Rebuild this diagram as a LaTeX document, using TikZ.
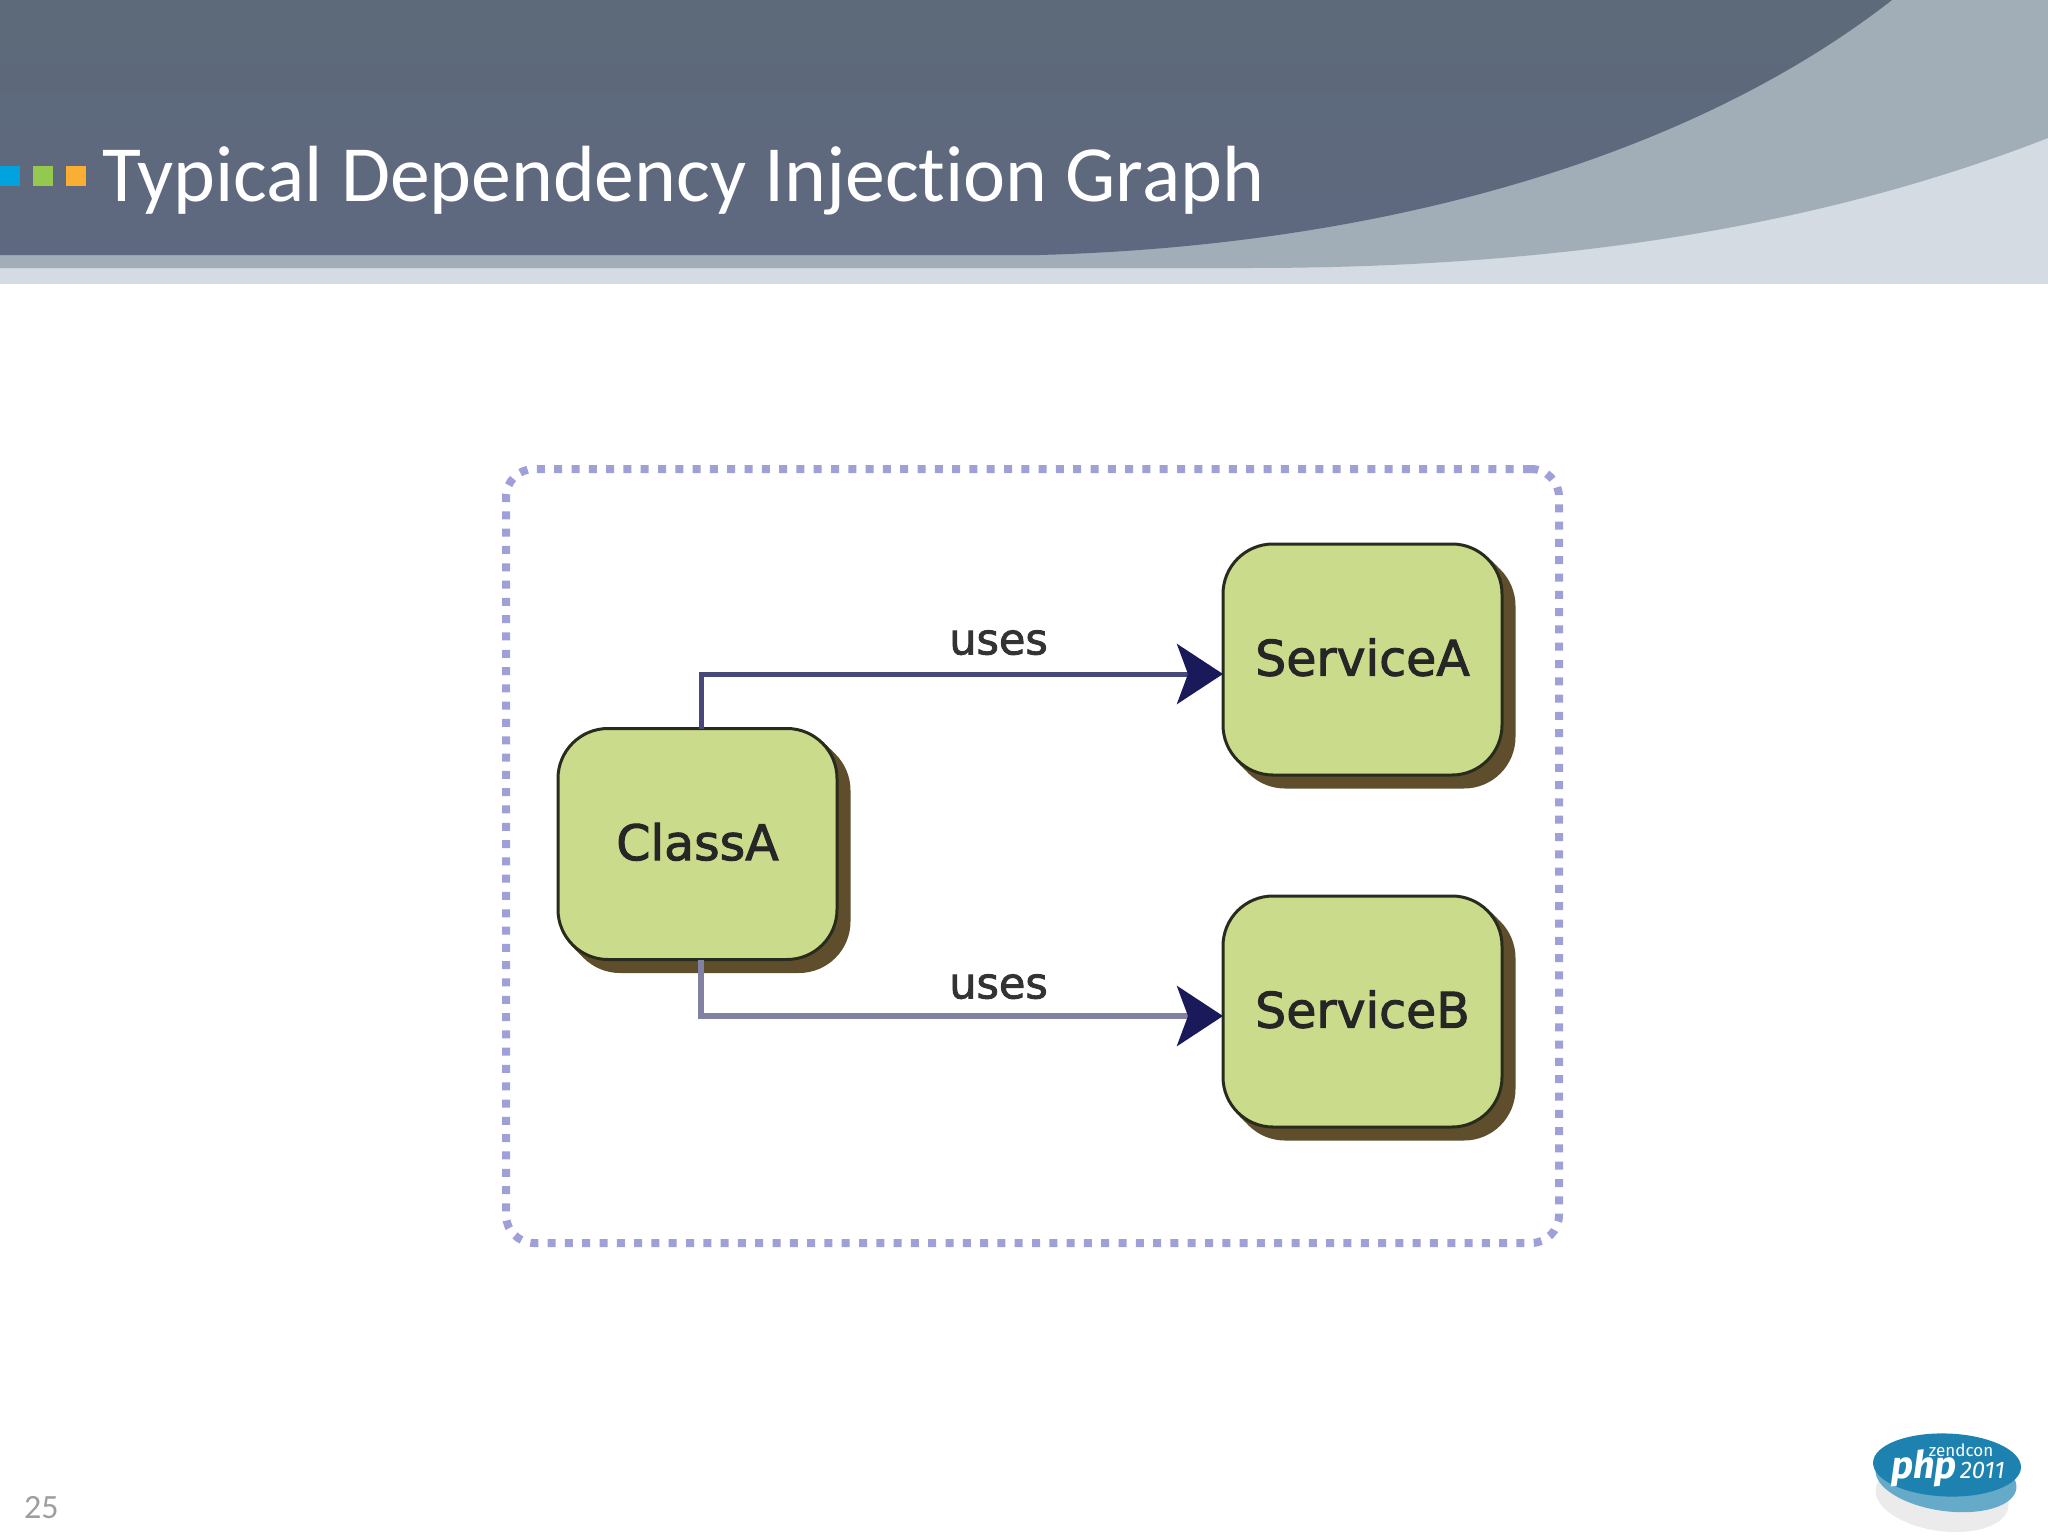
\documentclass[tikz,border=0pt]{standalone}
\usepackage{fontspec}
\setmainfont{Carlito}[Ligatures=NoCommon]
\newfontfamily\boxfont{DejaVu Sans}[FakeBold=2]
\newfontfamily\logofont{Fira Sans}
\usetikzlibrary{arrows.meta,shapes.geometric}
\definecolor{bandDark}{HTML}{5D6A79}
\definecolor{bandDarkLow}{HTML}{5E6880}
\definecolor{bandMid}{HTML}{A1AEB7}
\definecolor{bandLight}{HTML}{D4DBE2}
\definecolor{boxGreen}{HTML}{CBDB8C}
\definecolor{boxShadow}{HTML}{5E4E2C}
\definecolor{frameBlue}{HTML}{A0A0D8}
\definecolor{tipNavy}{HTML}{1A1A5A}
\definecolor{logoBlue}{HTML}{1E82B0}
\definecolor{markBlue}{HTML}{00A3DD}
\definecolor{markGreen}{HTML}{94C950}
\definecolor{markOrange}{HTML}{FBAE34}
\tikzset{
% Boxes with a hard shadow, and the two arrows between them
hard shadow/.style={preaction={draw=boxShadow,fill=boxShadow,transform canvas={shift={(#1,-#1)}}}},
class node/.style={rounded corners=50pt,draw=black!80!boxGreen,line width=3pt,fill=boxGreen,
  minimum width=279pt,minimum height=231pt,inner sep=0,outer sep=0,text depth=5pt,
  hard shadow=4pt,hard shadow=8pt,hard shadow=12pt,
  text=black!85,font=\boxfont\fontsize{49}{58}\selectfont},
uses line/.style={line width=5pt,-{Stealth[length=46pt,width=60pt,inset=11pt,color=tipNavy]}},
uses label/.style={font=\boxfont\fontsize{43}{50}\selectfont,text=black!80,inner sep=0},
marker/.style={minimum size=20pt,inner sep=0,outer sep=0}
}

\begin{document}
\begin{tikzpicture}[x=1pt,y=-1pt]
\useasboundingbox (0,0) rectangle (2048,1536);
% header bands
\fill[bandLight] (0,0) rectangle (2048,284);
\fill[bandMid] (0,0) -- (2048,0) -- (2048,138) .. controls (1850,215) and (1600,268) .. (1250,268) -- (0,268) -- cycle;
\shade[top color=bandDark,bottom color=bandDarkLow] (0,0) -- (1892,0) .. controls (1700,150) and (1400,245) .. (1040,255) -- (0,255) -- cycle;
\node[marker,fill=markBlue] (m1) at (10,176){};
\node[marker,fill=markGreen] (m2) at (43,176){};
\node[marker,fill=markOrange] (m3) at (76,176){};
\node[anchor=base west,inner sep=0,text=white,font=\fontsize{79.7}{96}\selectfont] (title) at (102,201) {Typical Dependency Injection Graph};

% diagram
\node[draw=frameBlue,line width=8pt,dash pattern=on 8pt off 9.3pt,rounded corners=28pt,
  minimum width=1053pt,minimum height=774pt,outer sep=0] (frame) at (1032.5,856){};
\node[class node] (ClassA) at (697.5,844) {ClassA};
\node[class node] (ServiceA) at (1362.5,659.5) {ServiceA};
\node[class node] (ServiceB) at (1362.5,1011.5) {ServiceB};

\draw[uses line,draw=tipNavy!80!white] ([xshift=3.5pt]ClassA.north) |- node[uses label,pos=0.785,above=16.5pt] (usesA) {uses} ([yshift=-14.5pt]ServiceA.west);
\draw[uses line,draw=tipNavy!55!white,line width=6pt] ([xshift=3.5pt]ClassA.south) |- node[uses label,pos=0.785,above=14pt] (usesB) {uses} ([yshift=-4.5pt]ServiceB.west);

% page number and logo
\node[anchor=base west,inner sep=0,text=black!38,font=\fontsize{34}{40}\selectfont] (page) at (24,1518) {25};
\fill[black!8,rotate around={-8:(1942,1498)}] (1942,1498) ellipse (67pt and 33pt);
\fill[logoBlue!68!white,rotate around={-8:(1946,1479)}] (1946,1479) ellipse (71pt and 32pt);
\node[ellipse,fill=logoBlue,minimum width=148pt,minimum height=63pt,inner sep=0,rotate=-2] (logo) at (1947,1465){};
\node[inner sep=0,text=white,font=\logofont\fontsize{17}{19}\selectfont] (zend) at (1961,1450) {zendcon};
\node[anchor=base west,inner sep=0,text=white,font=\logofont\bfseries\itshape\fontsize{38}{44}\selectfont] (php) at (1891,1478) {php};
\node[anchor=base west,inner sep=0,text=white,font=\logofont\itshape\fontsize{24}{28}\selectfont] (year) at (1960,1478) {2011};
\end{tikzpicture}
\end{document}
